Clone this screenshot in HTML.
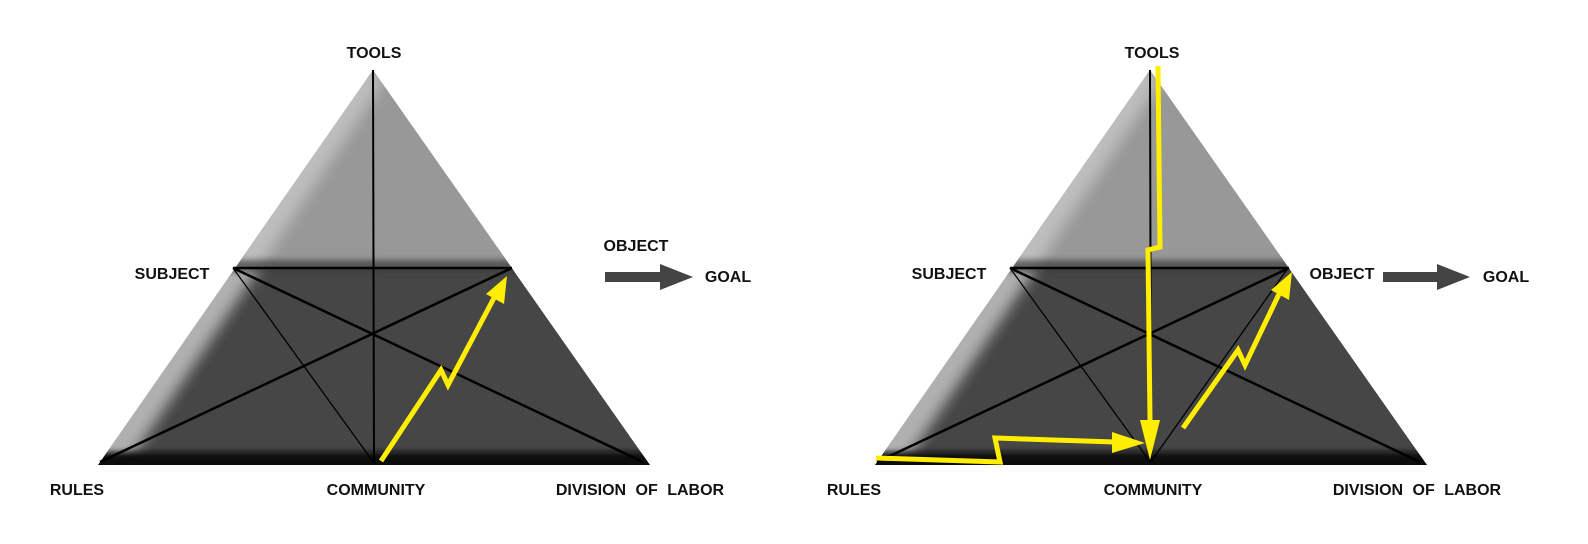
<!DOCTYPE html>
<html><head><meta charset="utf-8"><style>
html,body{margin:0;padding:0;background:#fff;}
svg{display:block;}
text{font-family:"Liberation Sans",Arial,sans-serif;font-weight:bold;font-size:16px;fill:#111;}
</style></head><body>
<svg width="1588" height="544" viewBox="0 0 1588 544" xmlns="http://www.w3.org/2000/svg">
<defs>
<clipPath id="cp"><polygon points="373,70 98,465 650,465"/></clipPath>
<filter id="bl" x="-20%" y="-20%" width="140%" height="140%"><feGaussianBlur stdDeviation="7"/></filter>
<filter id="bl2" x="-20%" y="-50%" width="140%" height="200%"><feGaussianBlur stdDeviation="3"/></filter>
<g id="tri">
<g clip-path="url(#cp)">
<polygon points="373,70 98,465 650,465" fill="#464646"/>
<polygon points="373,70 233,268 512,268" fill="#989898"/>
<polygon points="360,60 70,475 120,475 385,80" fill="#c4c4c4" filter="url(#bl)" opacity="0.85"/>
<rect x="200" y="260" width="350" height="12" fill="#3a3a3a" filter="url(#bl2)" opacity="0.7"/>
<rect x="60" y="452" width="620" height="20" fill="#111" filter="url(#bl2)"/>
</g>
<g stroke="#000" fill="none">
<line x1="373" y1="70" x2="374" y2="463" stroke-width="2"/>
<line x1="233" y1="268" x2="512" y2="268" stroke-width="2.5"/>
<line x1="233" y1="268" x2="643" y2="462" stroke-width="2.5"/>
<line x1="512" y1="268" x2="100" y2="462" stroke-width="2.5"/>
<line x1="233" y1="268" x2="374" y2="463" stroke-width="1.3"/>
</g>
</g>
</defs>
<use href="#tri"/>
<use href="#tri" transform="translate(777,0)"/>
<line x1="1288" y1="268" x2="1150" y2="463" stroke="#000" stroke-width="1.3"/>

<polygon points="605,272 660,272 660,264 693,277 660,290 660,282 605,282" fill="#444"/>
<polygon points="1383,272 1437,272 1437,264 1470,277 1437,290 1437,282 1383,282" fill="#444"/>

<g fill="none" stroke="#ffee00" stroke-width="5">
<polyline points="381,461 441,370 448,385 495,296"/>
<polyline points="1158,66 1160,247 1148,250 1150,420"/>
<polyline points="876,458 1000,462 995,438 1115,442"/>
<polyline points="1183,428 1238,350 1245,365 1280,292"/>
</g>
<polygon points="507,276 504,304 486,294" fill="#ffee00"/>
<polygon points="1140,420 1160,420 1150,460" fill="#ffee00"/>
<polygon points="1112,432 1145,443 1112,453" fill="#ffee00"/>
<polygon points="1292,272 1289,300 1271,290" fill="#ffee00"/>

<text x="374" y="58" text-anchor="middle">TOOLS</text>
<text x="172" y="279" text-anchor="middle">SUBJECT</text>
<text x="636" y="251" text-anchor="middle">OBJECT</text>
<text x="728" y="282" text-anchor="middle">GOAL</text>
<text x="77" y="495" text-anchor="middle">RULES</text>
<text x="376" y="495" text-anchor="middle">COMMUNITY</text>
<text x="640" y="495" text-anchor="middle" word-spacing="5">DIVISION OF LABOR</text>

<text x="1152" y="58" text-anchor="middle">TOOLS</text>
<text x="949" y="279" text-anchor="middle">SUBJECT</text>
<text x="1342" y="279" text-anchor="middle">OBJECT</text>
<text x="1506" y="282" text-anchor="middle">GOAL</text>
<text x="854" y="495" text-anchor="middle">RULES</text>
<text x="1153" y="495" text-anchor="middle">COMMUNITY</text>
<text x="1417" y="495" text-anchor="middle" word-spacing="5">DIVISION OF LABOR</text>
</svg>
</body></html>
